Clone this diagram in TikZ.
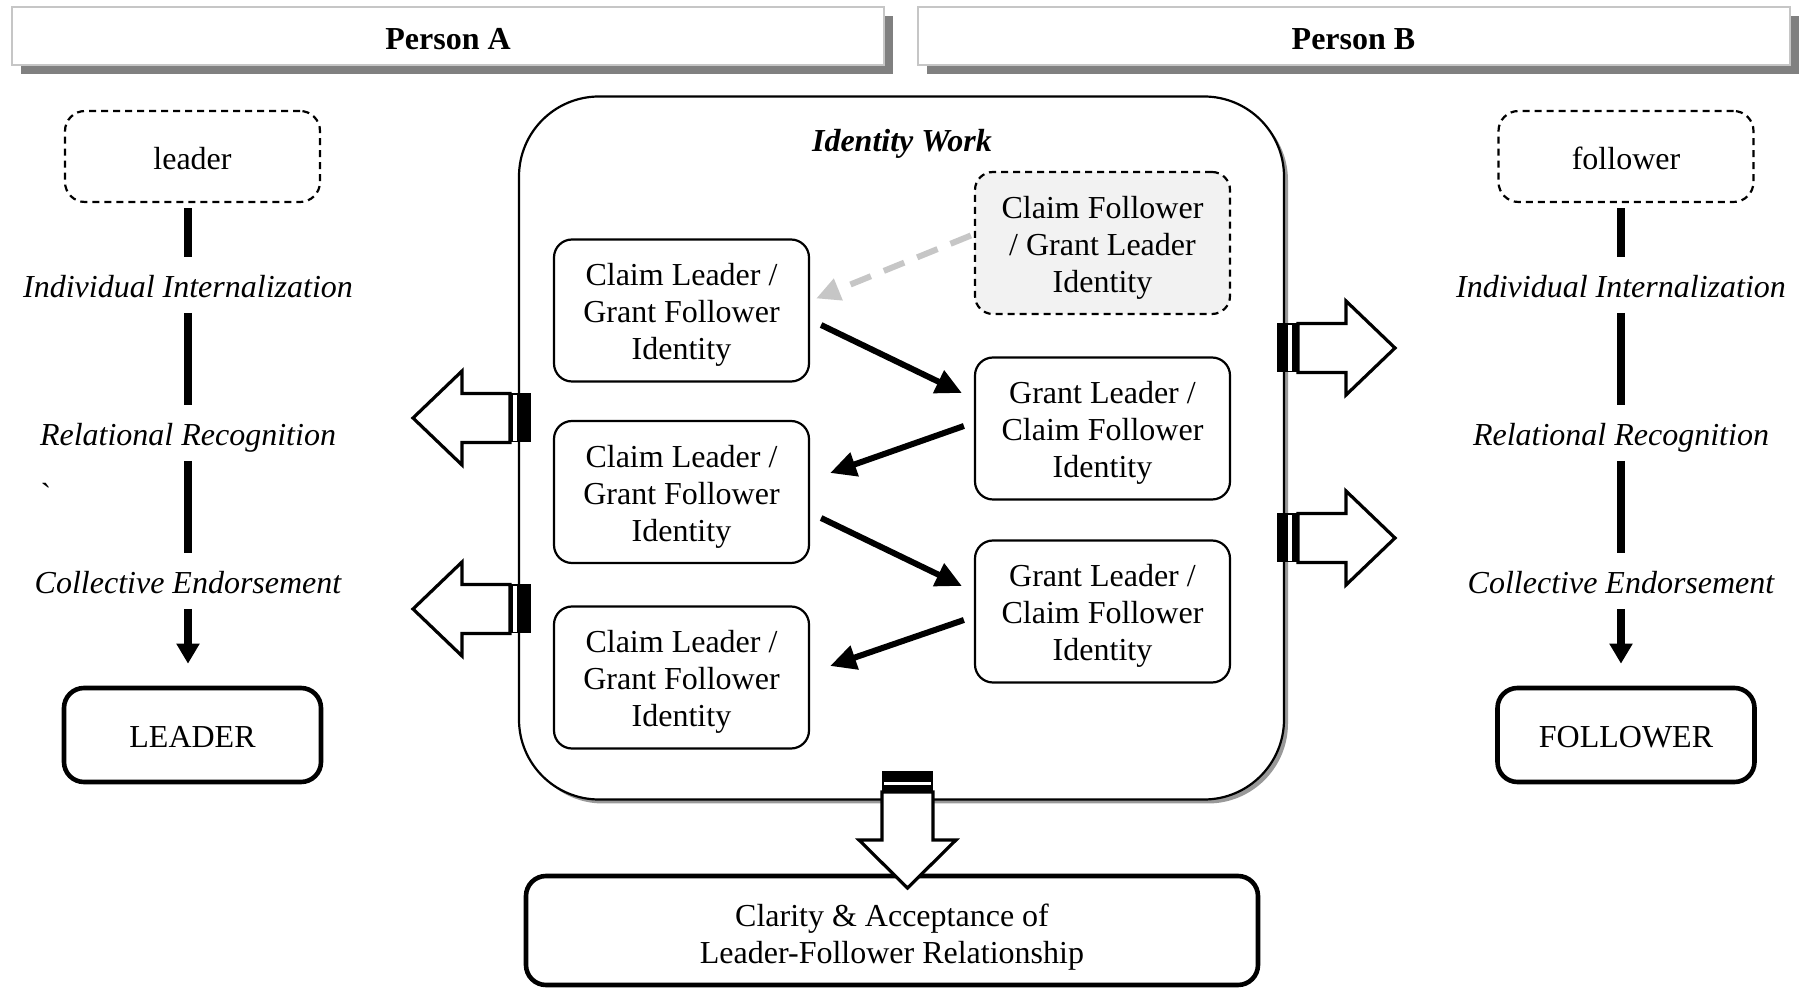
\documentclass[tikz,border=0pt]{standalone}
\usepackage{fontspec}
\setmainfont{Liberation Serif}
\usetikzlibrary{arrows.meta, calc, positioning, shadows}
\newcommand{\idstrut}{\rule{0pt}{15.7pt}}

\begin{document}
\begin{tikzpicture}[x=0.5pt,y=-0.5pt,
    every node/.style={font=\fontsize{16}{18.4}\selectfont}]
  \tikzstyle{header}=[draw=gray!45, line width=1pt, fill=white, minimum width=436pt, minimum height=29pt,
    font=\fontsize{16}{18.4}\selectfont\bfseries, text height=14pt, text depth=0pt,
    drop shadow={shadow xshift=4.5pt, shadow yshift=-4.5pt, fill=gray, opacity=1}]
  \tikzstyle{work}=[draw, line width=1.1pt, fill=white, rounded corners=40pt, minimum width=382.5pt, minimum height=351.5pt,
    drop shadow={shadow xshift=2pt, shadow yshift=-2pt, fill=gray!80, opacity=1}]
  \tikzstyle{idbox}=[draw, line width=1.1pt, rounded corners=9pt, minimum width=127.5pt, minimum height=71pt, align=center,
    inner sep=2pt]
  \tikzstyle{rolebox}=[draw, line width=1.1pt, dash pattern=on 3.5pt off 2.5pt, rounded corners=10pt, minimum width=127.5pt,
    minimum height=45.5pt, text height=13pt, text depth=0pt]
  \tikzstyle{endbox}=[draw, line width=2.3pt, rounded corners=10pt, minimum width=128.5pt, minimum height=47pt, align=center,
    text height=13pt, text depth=0pt]
  \tikzstyle{stage}=[font=\fontsize{16}{18.4}\selectfont\itshape, text height=13.4pt, text depth=1.1pt, inner ysep=6.5pt]
  \tikzstyle{stem}=[line width=4pt]
  \tikzstyle{flow}=[line width=3pt, -{Triangle[length=13pt,width=12pt]}]
  \tikzstyle{hint}=[line width=3pt, gray!45, dash pattern=on 11pt off 7pt, -{Triangle[length=12pt,width=11pt]}]
  \tikzstyle{blockarrow}=[draw, line width=1.6pt, fill=white, line join=miter]

  \useasboundingbox (0,0) rectangle (1801,988);

  % persons
  \node[header] (pA) at (448,36)    {Person A};
  \node[header] (pB) at (1353.5,36) {Person B};

  % identity work
  \node[work] (work) at (901.5,448) {};
  \node[font=\fontsize{16}{18.4}\selectfont\bfseries\itshape, text height=11.6pt, text depth=0pt] (title) at (902,140) {Identity Work};

  \node[idbox]                    (cl1) at (681.5,310.5)  {\idstrut Claim Leader /\\Grant Follower\\Identity};
  \node[idbox]                    (cl2) at (681.5,492)    {\idstrut Claim Leader /\\Grant Follower\\Identity};
  \node[idbox]                    (cl3) at (681.5,677.5)  {\idstrut Claim Leader /\\Grant Follower\\Identity};
  \node[idbox,dash pattern=on 3.5pt off 2.5pt,fill=gray!10]
                                  (cf)  at (1102.5,243)   {\idstrut Claim Follower\\/ Grant Leader\\Identity};
  \node[idbox]                    (gl1) at (1102.5,428.5) {\idstrut Grant Leader /\\Claim Follower\\Identity};
  \node[idbox]                    (gl2) at (1102.5,611.5) {\idstrut Grant Leader /\\Claim Follower\\Identity};

  \draw[hint] ($(cf.west)+(-3,-7.5)$)   -- ($(cl1.east)+(6,-12)$);
  \draw[flow] ($(cl1.east)+(11,14.5)$)  -- ($(gl1.west)+(-12,-35.5)$);
  \draw[flow] ($(gl1.west)+(-10,-2.5)$) -- ($(cl2.east)+(20,-19)$);
  \draw[flow] ($(cl2.east)+(11,26)$)    -- ($(gl2.west)+(-12,-25.5)$);
  \draw[flow] ($(gl2.west)+(-10,8.5)$)  -- ($(cl3.east)+(20,-11.5)$);

  % person A
  \node[rolebox] (leader) at (192.5,156.5) {leader};
  \node[stage]   (inA)    at (188,285)     {Individual Internalization};
  \node[stage]   (reA)    at (188,433)     {Relational Recognition};
  \node[stage]   (ceA)    at (188,581)     {Collective Endorsement};
  \node[endbox]  (LEADER) at (192.5,735)   {LEADER};
  \node          (tick)   at (46,494)      {\textasciigrave};

  \path[stem]
  (leader.south -| inA) edge [shorten <=2.5pt] (inA)
  (inA)    edge                   (reA)
  (reA)    edge                   (ceA)
  (ceA)    edge [-{Triangle[width=11pt,length=10pt]}, shorten >=11pt] (ceA |- LEADER.north)
  ;

  % person B
  \node[rolebox] (follower) at (1626,156.5)  {follower};
  \node[stage]   (inB)      at (1621,285)    {Individual Internalization};
  \node[stage]   (reB)      at (1621,433)    {Relational Recognition};
  \node[stage]   (ceB)      at (1621,581)    {Collective Endorsement};
  \node[endbox]  (FOLLOWER) at (1626,735)    {FOLLOWER};

  \path[stem]
  (follower.south -| inB) edge [shorten <=2.5pt] (inB)
  (inB)      edge                   (reB)
  (reB)      edge                   (ceB)
  (ceB)      edge [-{Triangle[width=11pt,length=10pt]}, shorten >=11pt] (ceB |- FOLLOWER.north)
  ;

  % outcome
  \node[endbox, minimum width=366pt, minimum height=54.5pt, text height=, text depth=] (clarity) at (892,930.5)
    {\rule{0pt}{18pt}Clarity \& Acceptance of\\Leader-Follower Relationship};

  % block arrows out of the identity work
  \draw[blockarrow] (413,418) -- (462,371) -- (462,393.5) -- (510,393.5) -- (510,442.5) -- (462,442.5) -- (462,465) -- cycle;
  \fill (510,393.5) rectangle (531,442.5);
  \fill[white] (513,395) rectangle (516.5,441);
  \draw[blockarrow] (413,609) -- (462,562) -- (462,584.5) -- (510,584.5) -- (510,633.5) -- (462,633.5) -- (462,656) -- cycle;
  \fill (510,584.5) rectangle (531,633.5);
  \fill[white] (513,586) rectangle (516.5,632);

  \draw[blockarrow] (1395,348) -- (1346,301) -- (1346,323.5) -- (1298,323.5) -- (1298,372.5) -- (1346,372.5) -- (1346,395) -- cycle;
  \fill (1277,323.5) rectangle (1298,372.5);
  \fill[white] (1288,325) rectangle (1292,371);
  \draw[blockarrow] (1395,538) -- (1346,491) -- (1346,513.5) -- (1298,513.5) -- (1298,562.5) -- (1346,562.5) -- (1346,585) -- cycle;
  \fill (1277,513.5) rectangle (1298,562.5);
  \fill[white] (1288,515) rectangle (1292,561);

  \draw[blockarrow] (907.5,888) -- (859,840) -- (882,840) -- (882,792) -- (933,792) -- (933,840) -- (956,840) -- cycle;
  \fill (882,771) rectangle (933,792);
  \fill[white] (884,782) rectangle (931,785.5);
\end{tikzpicture}
\end{document}
